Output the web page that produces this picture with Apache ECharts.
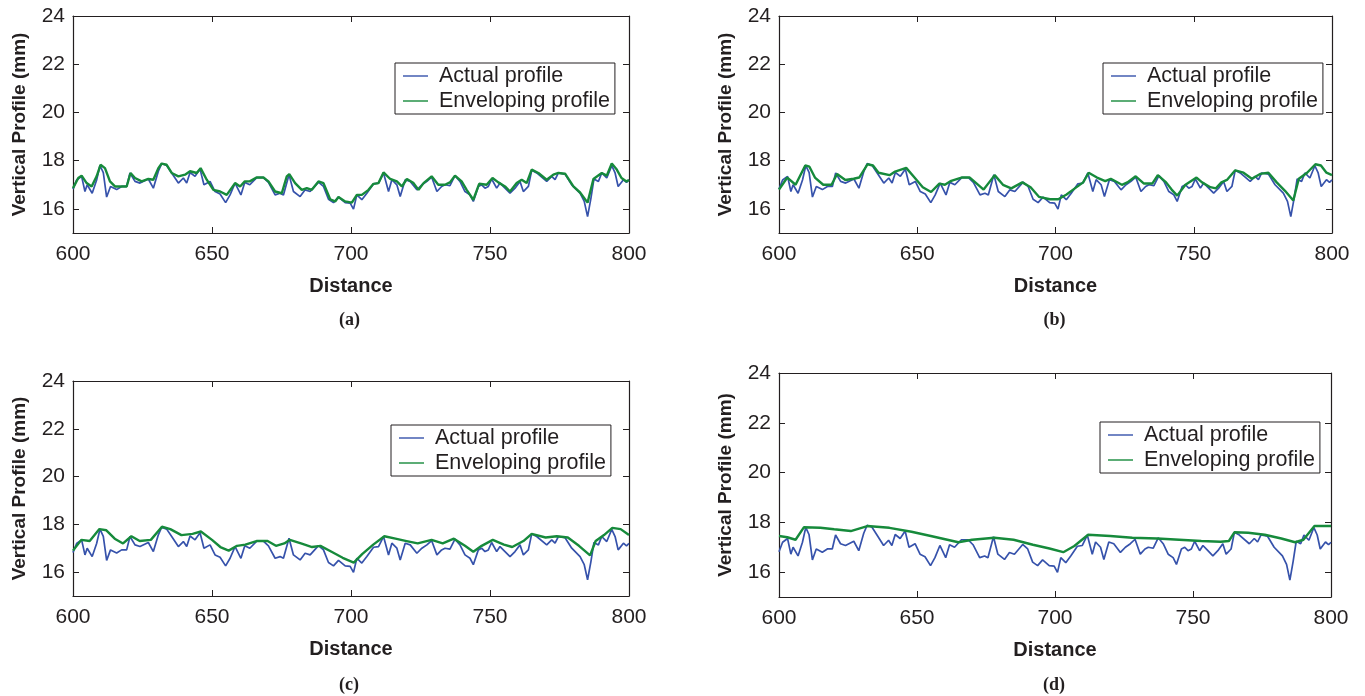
<!DOCTYPE html>
<html>
<head>
<meta charset="utf-8">
<script src="https://cdn.jsdelivr.net/npm/echarts@6/dist/echarts.min.js"></script>
<style>
  html, body { margin: 0; padding: 0; background: #fff; }
  #chart { width: 1365px; height: 696px; }
</style>
</head>
<body>
<div id="chart"></div>
<script>
// Measured road profile, [distance, height mm]
const actualProfile = [
  [600,16.82],[601.3,17.2],[603.1,17.35],[604.3,16.72],[605.1,17.0],[606.9,16.65],[608.5,17.2],[609.7,17.8],
  [610.9,17.5],[612.1,16.49],[613.5,16.93],[615.7,16.8],[617.5,16.93],[619.3,16.93],[620.5,17.49],[622.3,17.14],
  [624.1,17.07],[627.1,17.24],[628.9,16.86],[630.7,17.56],[631.9,17.88],[633.7,17.8],[635.5,17.49],[637.9,17.07],
  [639.7,17.28],[640.9,17.07],[642.1,17.51],[643.9,17.35],[645.7,17.65],[647.1,17.0],[649.3,17.14],[651.1,16.72],
  [652.9,16.62],[654.9,16.26],[656.5,16.58],[658.3,17.07],[660.4,16.58],[661.8,17.1],[663.6,17.0],[666.1,17.3],
  [668.5,17.3],[670.3,17.1],[672.7,16.58],[674.5,16.65],[675.7,16.58],[677.7,17.42],[679.3,16.72],[681.7,16.51],
  [683.5,16.79],[685.3,16.72],[688.3,17.11],[690.1,16.93],[691.9,16.4],[693.7,16.26],[695.5,16.49],[697.9,16.26],
  [699.7,16.24],[700.9,15.99],[702.1,16.58],[703.9,16.38],[705.7,16.65],[708.1,17.04],[709.9,17.07],[711.7,17.49],
  [713.5,16.72],[714.7,17.21],[716.5,17.0],[717.7,16.51],[719.5,17.21],[721.3,17.14],[723.7,16.79],[725.5,17.0],
  [727.3,17.14],[729.0,17.32],[730.9,16.72],[732.6,16.93],[733.8,17.0],[735.6,16.96],[737.4,17.38],[739.2,17.14],
  [741,16.72],[742.8,16.58],[744,16.31],[745.8,16.93],[747,17.0],[748.2,16.86],[749.4,16.93],[750.6,17.24],
  [752.4,16.86],[753.6,17.07],[755.4,16.86],[757.2,16.65],[759,16.86],[760.8,17.14],[762,16.72],[763.8,16.93],
  [765,17.6],[766.8,17.49],[770.4,17.14],[772.2,17.35],[773.4,17.21],[774.6,17.49],[777,17.44],[779.4,17.0],
  [782.4,16.65],[783.9,16.31],[785.1,15.68],[786.3,16.44],[787.4,17.24],[789,17.14],[790.2,17.49],[792,17.28],
  [793.8,17.79],[795,17.49],[796.1,16.93],[798,17.21],[799.1,17.1],[800,17.2]
];

// Enveloping profiles for the four tyre contact sizes
const envelopeA = [
  [600,16.86],[601.9,17.28],[603.1,17.38],[604.9,17.07],[606.7,16.93],[608.5,17.35],[609.9,17.83],[611.5,17.69],
  [613.3,17.14],[615.1,16.93],[619.3,16.93],[620.7,17.49],[622.3,17.28],[624.7,17.14],[627.1,17.24],[628.9,17.21],
  [630.7,17.69],[631.9,17.88],[633.7,17.83],[635.5,17.49],[637.9,17.35],[640.3,17.42],[642.1,17.56],[644.5,17.49],
  [645.9,17.69],[648.1,17.21],[650.5,16.79],[652.9,16.72],[655.3,16.58],[658.3,17.07],[660.1,16.93],[661.8,17.14],
  [663.6,17.14],[666.0,17.3],[668.5,17.3],[670.3,17.14],[672.7,16.72],[675.1,16.65],[676.9,17.35],[677.8,17.44],
  [679.9,17.07],[682.3,16.79],[684.1,16.86],[685.9,16.79],[688.3,17.14],[690.1,17.07],[692.5,16.4],[694.3,16.31],
  [695.5,16.49],[697.9,16.31],[700.3,16.26],[702.1,16.58],[703.9,16.58],[706.3,16.79],[708.1,17.04],[709.9,17.07],
  [711.7,17.51],[714.1,17.24],[716.5,17.14],[718.3,16.93],[720.1,17.24],[722.5,17.07],[724.3,16.79],[726.1,17.07],
  [729.0,17.35],[731.4,17.0],[733.8,17.0],[735.6,17.1],[737.4,17.38],[739.8,17.14],[741.6,16.79],[744,16.38],
  [746.1,17.04],[748.8,17.0],[750.9,17.28],[753,17.1],[755.4,16.93],[757.2,16.72],[759.6,17.07],[761.4,17.21],
  [763.2,17.07],[765,17.63],[767.4,17.49],[770.4,17.21],[772.8,17.42],[774.6,17.49],[777,17.46],[780,16.93],
  [782.4,16.68],[785.1,16.26],[787.2,17.24],[790.2,17.49],[792,17.38],[793.8,17.88],[795.6,17.63],[797.3,17.28],
  [799.1,17.14],[800,17.2]
];
const envelopeB = [
  [600,16.8],[603,17.3],[606,17.0],[609.5,17.8],[611,17.75],[613,17.3],[616,17.0],[619,17.0],[621,17.45],
  [624,17.2],[627,17.25],[629,17.3],[632,17.85],[634,17.8],[636,17.5],[640,17.4],[642,17.55],[646,17.7],
  [649,17.3],[652,16.9],[655,16.7],[658,17.05],[660,17.0],[662,17.15],[666,17.3],[669,17.3],[671,17.1],
  [674,16.8],[676,17.1],[678,17.4],[681,17.0],[684,16.85],[688,17.1],[691,16.9],[694,16.5],[698,16.4],
  [701,16.4],[704,16.6],[707,16.85],[710,17.1],[712,17.5],[715,17.3],[718,17.15],[720,17.25],[724,17.0],
  [726,17.1],[729,17.35],[732,17.05],[735,17.05],[737,17.4],[740,17.1],[742,16.8],[744,16.55],[747,17.0],
  [751,17.3],[753,17.1],[756,16.9],[758,16.85],[760,17.1],[762,17.2],[765,17.6],[768,17.5],[771,17.25],
  [774,17.45],[777,17.5],[780,17.1],[783,16.75],[786,16.35],[788,17.25],[791,17.5],[794,17.85],[796,17.8],
  [798,17.5],[800,17.4]
];
const envelopeC = [
  [600,16.9],[603,17.35],[606,17.3],[609.5,17.8],[612,17.75],[615,17.4],[618,17.2],[621,17.5],[624,17.3],
  [628,17.35],[632,17.9],[635,17.8],[639,17.55],[643,17.6],[646,17.7],[650,17.35],[653,17.05],[656,16.9],
  [659,17.1],[662,17.15],[666,17.3],[670,17.3],[673,17.1],[676,17.2],[678,17.35],[682,17.2],[686,17.05],
  [689,17.1],[693,16.85],[697,16.6],[701,16.4],[704,16.75],[708,17.15],[712,17.5],[716,17.4],[720,17.3],
  [724,17.2],[729,17.35],[733,17.2],[737,17.4],[741,17.1],[744,16.85],[747,17.1],[751,17.35],[755,17.15],
  [758,17.05],[762,17.3],[765,17.6],[770,17.45],[774,17.5],[778,17.45],[782,17.1],[786,16.7],[788,17.3],
  [791,17.55],[794,17.85],[797,17.8],[800,17.55]
];
const envelopeD = [
  [600,17.45],[603,17.4],[606,17.3],[609,17.8],[615,17.78],[620,17.72],[626,17.65],[632,17.85],[640,17.78],
  [648,17.62],[655,17.45],[661,17.3],[665,17.2],[670,17.3],[678,17.38],[685,17.3],[692,17.1],[698,16.95],
  [703,16.8],[707,17.05],[712,17.5],[720,17.45],[728,17.38],[737,17.35],[745,17.3],[753,17.25],[760,17.22],
  [763,17.25],[765,17.6],[770,17.58],[776,17.5],[782,17.35],[787,17.2],[790,17.3],[794,17.85],[800,17.85]
];

const xTicks = [600, 650, 700, 750, 800];
const yTicks = [16, 18, 20, 22, 24];
const panelLetters = ['(a)', '(b)', '(c)', '(d)'];
const seriesNames = ['Actual profile', 'Enveloping profile'];
const envelopes = [envelopeA, envelopeB, envelopeC, envelopeD];

const BLUE = '#3652ab';
const GREEN = '#168a3b';
const INK = '#231f20';
const SANS = '"Liberation Sans", Arial, sans-serif';

// Plot rectangles and legend anchors for the 2x2 layout
const panels = [
  { left: 73,  top: 16,  width: 556, height: 217, legendLeft: 395,  legendTop: 63 },
  { left: 779, top: 16,  width: 553, height: 217, legendLeft: 1103, legendTop: 63 },
  { left: 73,  top: 381, width: 556, height: 215, legendLeft: 391,  legendTop: 425 },
  { left: 779, top: 373, width: 552, height: 224, legendLeft: 1100, legendTop: 422 }
];

const grid = [], xAxis = [], yAxis = [], series = [], legend = [], graphic = [];

panels.forEach((p, i) => {
  grid.push({ left: p.left, top: p.top, width: p.width, height: p.height, show: false });
  const line = { show: true, lineStyle: { color: INK, width: 1.2 } };
  const tick = { show: true, inside: true, length: 6, lineStyle: { color: INK, width: 1 } };
  // bottom axis with labels
  xAxis.push({
    gridIndex: i, type: 'value', min: 600, max: 800, interval: 50, position: 'bottom',
    axisLine: line, axisTick: tick, splitLine: { show: false },
    axisLabel: { color: INK, fontSize: 21, fontFamily: SANS, margin: 11 },
    name: 'Distance', nameLocation: 'middle', nameGap: 43,
    nameTextStyle: { color: INK, fontSize: 20, fontWeight: 'bold', fontFamily: SANS }
  });
  // mirrored top axis
  xAxis.push({
    gridIndex: i, type: 'value', min: 600, max: 800, interval: 50, position: 'top',
    axisLine: line, axisTick: tick, splitLine: { show: false }, axisLabel: { show: false }
  });
  // left axis with labels
  yAxis.push({
    gridIndex: i, type: 'value', min: 15, max: 24, position: 'left',
    axisLine: line,
    axisTick: Object.assign({}, tick, { customValues: yTicks }),
    splitLine: { show: false },
    axisLabel: { color: INK, fontSize: 21, fontFamily: SANS, margin: 8, customValues: yTicks },
    name: 'Vertical Profile (mm)', nameLocation: 'middle', nameGap: 44,
    nameTextStyle: { color: INK, fontSize: 19, fontWeight: 'bold', fontFamily: SANS }
  });
  // mirrored right axis
  yAxis.push({
    gridIndex: i, type: 'value', min: 15, max: 24, position: 'right',
    axisLine: line,
    axisTick: Object.assign({}, tick, { customValues: yTicks }),
    splitLine: { show: false }, axisLabel: { show: false }
  });

  series.push({
    name: seriesNames[0], type: 'line', xAxisIndex: 2 * i, yAxisIndex: 2 * i,
    data: actualProfile, symbol: 'none', lineStyle: { color: BLUE, width: 1.7 },
    itemStyle: { color: BLUE }, z: 2, silent: true
  });
  series.push({
    name: seriesNames[1], type: 'line', xAxisIndex: 2 * i, yAxisIndex: 2 * i,
    data: envelopes[i], symbol: 'none', lineStyle: { color: GREEN, width: 2.4 },
    itemStyle: { color: GREEN }, z: 3, silent: true
  });

  legend.push({
    left: p.legendLeft, top: p.legendTop, orient: 'vertical',
    backgroundColor: '#fff', borderColor: INK, borderWidth: 1, borderRadius: 0,
    padding: [2, 5, 2, 8], itemGap: 3, itemWidth: 25, itemHeight: 21,
    textStyle: { color: INK, fontSize: 21.5, fontFamily: SANS, lineHeight: 21, padding: [0, 0, 0, 6] },
    selectedMode: false,
    data: seriesNames.map((n, k) => ({
      name: n, icon: 'path://M0,9.8 L25,9.8 L25,11.2 L0,11.2 Z',
      itemStyle: { color: k === 0 ? BLUE : GREEN }
    }))
  });

  graphic.push({
    type: 'text', left: p.left + p.width / 2 - 12, top: i < 2 ? 311 : 676,
    style: { text: panelLetters[i], fill: INK, font: 'bold 18px "Liberation Serif", "Times New Roman", serif' }
  });
});

const chart = echarts.init(document.getElementById('chart'), null, { renderer: 'canvas' });
chart.setOption({
  animation: false,
  backgroundColor: '#fff',
  grid, xAxis, yAxis, series, legend, graphic
});
</script>
</body>
</html>
